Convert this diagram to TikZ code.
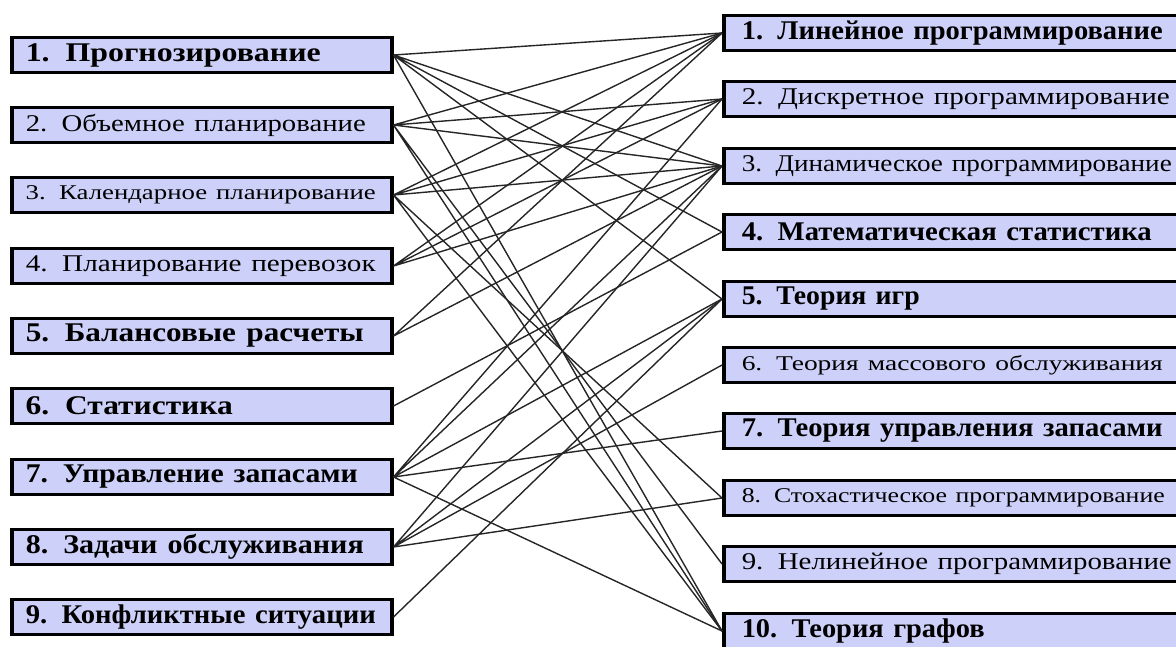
\documentclass[tikz,border=0pt]{standalone}
\usepackage{fontspec}
\usepackage{graphicx}
\setmainfont{Liberation Serif}
\definecolor{boxfill}{RGB}{205,208,248}
\newcommand{\fitw}[2]{\resizebox{#1pt}{\height}{#2}}

\begin{document}
\begin{tikzpicture}[x=1pt, y=-1pt,
            lbox/.style = {draw, line width=3.5pt, fill=boxfill, anchor=west, minimum height=35pt,
                           text width=352pt, inner xsep=14pt, inner ysep=0pt, align=left},
            rbox/.style = {lbox, text width=480pt, inner xsep=18pt},
            boldlbl/.style = {font=\fontsize{27}{28}\selectfont\bfseries},
            plainlbl/.style = {font=\fontsize{24}{26}\selectfont},
            smalllbl/.style = {font=\fontsize{21}{23}\selectfont},
            link/.style = {draw=black!85, line width=1.4pt}]
            \useasboundingbox (0,0) rectangle (1176,646);
            \clip (0,0) rectangle (1176,646);
            % tasks
            \node[lbox, boldlbl]  (l1) at (10,55)  {\fitw{295}{1. Прогнозирование}};
            \node[lbox, plainlbl] (l2) at (10,125) {\fitw{340}{2. Объемное планирование}};
            \node[lbox, smalllbl] (l3) at (10,195) {\fitw{350}{3. Календарное планирование}};
            \node[lbox, plainlbl] (l4) at (10,266) {\fitw{350}{4. Планирование перевозок}};
            \node[lbox, boldlbl]  (l5) at (10,336) {\fitw{338}{5. Балансовые расчеты}};
            \node[lbox, boldlbl]  (l6) at (10,406) {\fitw{207}{6. Статистика}};
            \node[lbox, boldlbl]  (l7) at (10,477) {\fitw{332}{7. Управление запасами}};
            \node[lbox, boldlbl]  (l8) at (10,547) {\fitw{338}{8. Задачи обслуживания}};
            \node[lbox, boldlbl]  (l9) at (10,617) {\fitw{350}{9. Конфликтные ситуации}};
            % methods
            \node[rbox, boldlbl]  (r1)  at (722,33)  {\fitw{421}{1. Линейное программирование}};
            \node[rbox, plainlbl] (r2)  at (722,99)  {\fitw{428}{2. Дискретное программирование}};
            \node[rbox, plainlbl] (r3)  at (722,166) {\fitw{430}{3. Динамическое программирование}};
            \node[rbox, boldlbl]  (r4)  at (722,232) {\fitw{410}{4. Математическая статистика}};
            \node[rbox, boldlbl]  (r5)  at (722,299) {\fitw{178}{5. Теория игр}};
            \node[rbox, smalllbl] (r6)  at (722,365) {\fitw{421}{6. Теория массового обслуживания}};
            \node[rbox, boldlbl]  (r7)  at (722,431) {\fitw{421}{7. Теория управления запасами}};
            \node[rbox, smalllbl] (r8)  at (722,498) {\fitw{423}{8. Стохастическое программирование}};
            \node[rbox, plainlbl] (r9)  at (722,564) {\fitw{430}{9. Нелинейное программирование}};
            \node[rbox, boldlbl]  (r10) at (722,631) {\fitw{243}{10. Теория графов}};
            % links
            \draw[link] (l1.east) -- (r1.west) (l1.east) -- (r3.west) (l1.east) -- (r4.west)
                        (l1.east) -- (r5.west) (l1.east) -- (r10.west);
            \draw[link] (l2.east) -- (r1.west) (l2.east) -- (r2.west) (l2.east) -- (r3.west)
                        (l2.east) -- (r9.west) (l2.east) -- (r10.west);
            \draw[link] (l3.east) -- (r1.west) (l3.east) -- (r2.west) (l3.east) -- (r3.west)
                        (l3.east) -- (r8.west) (l3.east) -- (r10.west);
            \draw[link] (l4.east) -- (r1.west) (l4.east) -- (r2.west) (l4.east) -- (r3.west);
            \draw[link] (l5.east) -- (r1.west) (l5.east) -- (r3.west);
            \draw[link] (l6.east) -- (r4.west);
            \draw[link] (l7.east) -- (r2.west) (l7.east) -- (r3.west) (l7.east) -- (r5.west)
                        (l7.east) -- (r7.west) (l7.east) -- (r10.west);
            \draw[link] (l8.east) -- (r3.west) (l8.east) -- (r5.west) (l8.east) -- (r6.west)
                        (l8.east) -- (r8.west);
            \draw[link] (l9.east) -- (r5.west);
        \end{tikzpicture}
\end{document}
